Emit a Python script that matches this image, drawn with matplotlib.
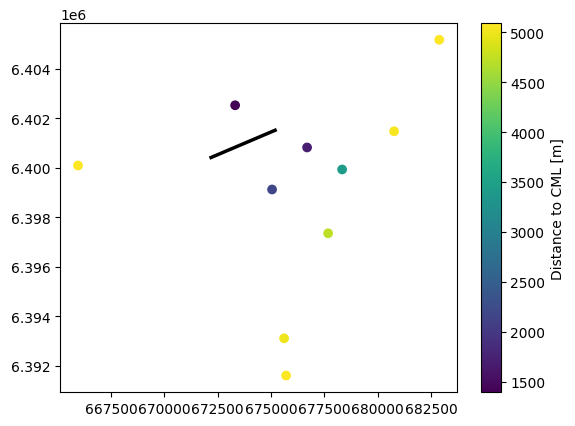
import matplotlib
matplotlib.use("Agg")
import matplotlib.pyplot as plt
import numpy as np

# station coordinates (easting, northing) and distance to CML
x_coords = [665955, 673316, 675047, 676688, 678330, 677673, 680765, 682880, 675610, 675704]
y_coords = [6400093, 6402525, 6399123, 6400820, 6399931, 6397354, 6401475, 6405170, 6393111, 6391608]
distances = [5091, 1395, 2150, 1700, 3430, 4720, 5060, 5080, 5000, 5070]

# CML endpoints
cml_x = [672190, 675188]
cml_y = [6400416, 6401515]

fig = plt.figure(figsize=(5.75, 4.27), dpi=100)
ax = fig.add_axes([0.1043, 0.0789, 0.6910, 0.8649])
cax = fig.add_axes([0.8365, 0.0789, 0.0343, 0.8649])

sc = ax.scatter(x_coords, y_coords, c=distances, cmap="viridis")
ax.plot(cml_x, cml_y, color="black", linewidth=2.5)

cb = fig.colorbar(sc, cax=cax)
cb.set_label("Distance to CML [m]")

fig.savefig("out.png", dpi=100)
